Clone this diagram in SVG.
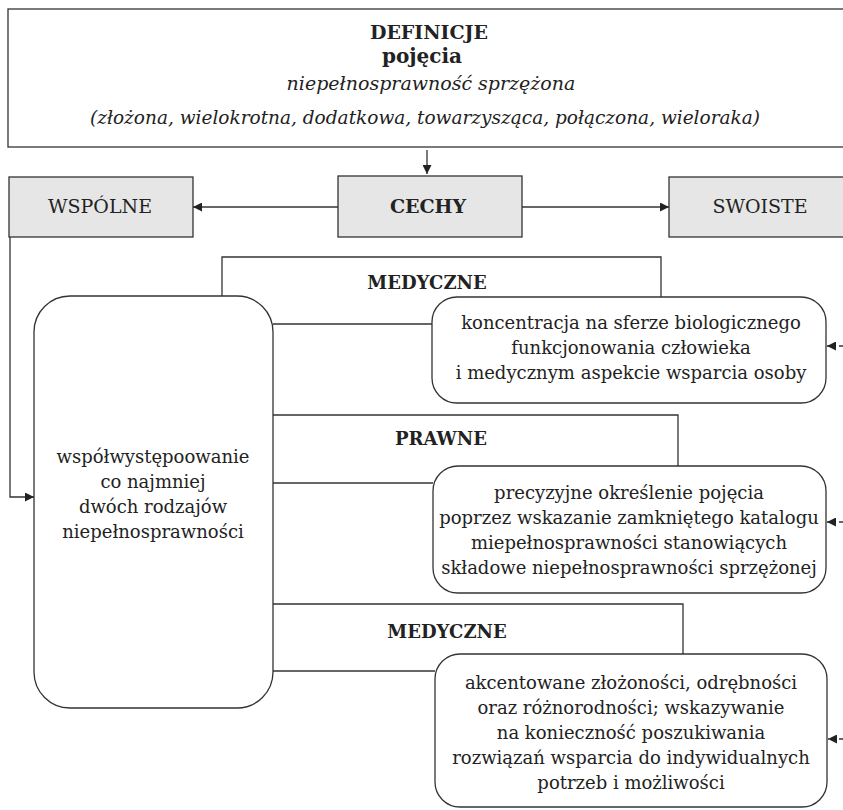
<svg xmlns="http://www.w3.org/2000/svg" width="843" height="810" viewBox="0 0 843 810">
<defs>
<marker id="ah" viewBox="0 0 10 10" refX="10" refY="5" markerWidth="10" markerHeight="9" markerUnits="userSpaceOnUse" orient="auto">
<path d="M0,0 L10,5 L0,10 z" fill="#222"/>
</marker>
<style>
.box{fill:#fff;stroke:#333;stroke-width:1.3}
.gbox{fill:#e6e6e6;stroke:#333;stroke-width:1.3}
.ln{fill:none;stroke:#333;stroke-width:1.3}
.dl{fill:none;stroke:#333;stroke-width:1.3;stroke-dasharray:4 3}
text{font-family:"DejaVu Serif","Liberation Serif",serif;fill:#222;text-anchor:middle}
.t{font-size:18px}
.c{font-size:19px}
.b{font-size:18px;font-weight:bold}
.i{font-style:italic}
</style>
</defs>
<rect width="843" height="810" fill="#fff"/>
<g id="definicje">
<rect class="box" x="8" y="9" width="850" height="138"/>
<text x="429" y="39" style="font-size:19px;font-weight:bold">DEFINICJE</text>
<text x="422" y="63" style="font-size:20px;font-weight:bold">pojęcia</text>
<text x="431" y="90" class="i" style="font-size:19px">niepełnosprawność sprzężona</text>
<text x="425" y="124" class="i" style="font-size:18.5px">(złożona, wielokrotna, dodatkowa, towarzysząca, połączona, wieloraka)</text>
</g>
<g id="wspolne">
<rect class="gbox" x="9" y="177" width="184" height="60"/>
<text x="100" y="213" class="c">WSPÓLNE</text>
</g>
<g id="cechy">
<rect class="gbox" x="338" y="176" width="184" height="61"/>
<text x="428" y="213" class="c" style="font-weight:bold">CECHY</text>
</g>
<g id="swoiste">
<rect class="gbox" x="669" y="177" width="190" height="60"/>
<text x="760" y="213" class="c">SWOISTE</text>
</g>
<g id="wspolwystepowanie">
<rect class="box" x="34" y="296" width="239" height="412" rx="36" ry="36"/>
<text x="153" y="463" class="t">współwystępoowanie</text>
<text x="153" y="488" class="t">co najmniej</text>
<text x="153" y="513" class="t">dwóch rodzajów</text>
<text x="153" y="538" class="t">niepełnosprawności</text>
</g>
<g id="medyczne1">
<rect class="box" x="432" y="297" width="394" height="106" rx="25" ry="25"/>
<text x="631" y="329" class="t">koncentracja na sferze biologicznego</text>
<text x="631" y="354" class="t">funkcjonowania człowieka</text>
<text x="631" y="379" class="t">i medycznym aspekcie wsparcia osoby</text>
</g>
<g id="prawne">
<rect class="box" x="433" y="466" width="393" height="127" rx="25" ry="25"/>
<text x="629" y="499" class="t">precyzyjne określenie pojęcia</text>
<text x="629" y="524" class="t">poprzez wskazanie zamkniętego katalogu</text>
<text x="629" y="549" class="t">miepełnosprawności stanowiących</text>
<text x="629" y="574" class="t">składowe niepełnosprawności sprzężonej</text>
</g>
<g id="medyczne2">
<rect class="box" x="435" y="654" width="392" height="153" rx="25" ry="25"/>
<text x="631" y="689" class="t">akcentowane złożoności, odrębności</text>
<text x="631" y="714" class="t">oraz różnorodności; wskazywanie</text>
<text x="631" y="739" class="t">na konieczność poszukiwania</text>
<text x="631" y="764" class="t">rozwiązań wsparcia do indywidualnych</text>
<text x="631" y="789" class="t">potrzeb i możliwości</text>
</g>
<g id="connectors">
<line class="ln" x1="427" y1="150" x2="427" y2="174" marker-end="url(#ah)"/>
<line class="ln" x1="338" y1="207" x2="193" y2="207" marker-end="url(#ah)"/>
<line class="ln" x1="522" y1="207" x2="669" y2="207" marker-end="url(#ah)"/>
<polyline class="ln" points="10,237 10,497 34,497" marker-end="url(#ah)"/>
<polyline class="ln" points="222,296 222,257 661,257 661,297"/>
<line class="ln" x1="273" y1="324" x2="432" y2="324"/>
<polyline class="ln" points="273,415 678,415 678,466"/>
<line class="ln" x1="273" y1="483" x2="433" y2="483"/>
<polyline class="ln" points="273,604 683,604 683,654"/>
<line class="ln" x1="273" y1="671" x2="435" y2="671"/>
<line class="dl" x1="843" y1="346" x2="827" y2="346" marker-end="url(#ah)"/>
<line class="dl" x1="843" y1="522" x2="827" y2="522" marker-end="url(#ah)"/>
<line class="dl" x1="843" y1="739" x2="828" y2="739" marker-end="url(#ah)"/>
</g>
<g id="labels">
<text x="427" y="289" class="b">MEDYCZNE</text>
<text x="441" y="445" class="b">PRAWNE</text>
<text x="447" y="638" class="b">MEDYCZNE</text>
</g>
</svg>
